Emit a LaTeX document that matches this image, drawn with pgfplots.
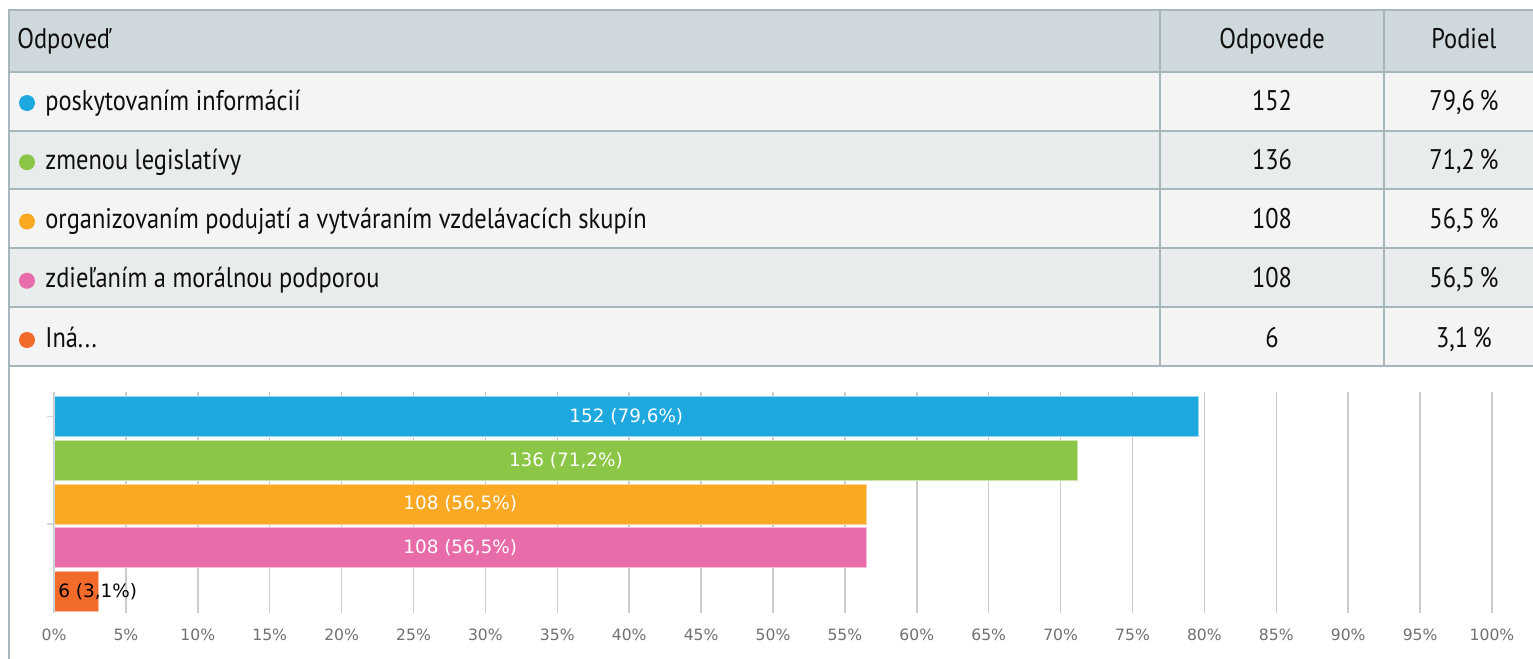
\documentclass[border=0pt]{standalone}
\usepackage{pgfplots}
\pgfplotsset{compat=1.18}
\usepackage{fontspec}
\setmainfont{PT Sans}[FakeStretch=0.86]
\newfontfamily\dejavu{DejaVu Sans}
\definecolor{cBlue}{HTML}{1EA8E0}
\definecolor{cGreen}{HTML}{8BC646}
\definecolor{cOrange}{HTML}{FBA823}
\definecolor{cPink}{HTML}{E76CA9}
\definecolor{cRed}{HTML}{F26B2A}
\definecolor{hdr}{HTML}{CFD8DC}
\definecolor{rowA}{HTML}{F4F4F4}
\definecolor{rowB}{HTML}{E9ECED}
\definecolor{bord}{HTML}{A7B6BC}
\definecolor{gridc}{HTML}{CCCCCC}
\definecolor{tickc}{HTML}{707070}
\definecolor{axl}{HTML}{CCD8E2}
\definecolor{txt}{HTML}{0E0E0E}
\newcommand\tabrow[5]{%
  \fill[#1] (27,#5-7) circle (8);
  \node[tt, anchor=base west] at (45,#5) {#2};
  \node[tt, anchor=base] at (1272,#5) {#3};
  \node[tt, anchor=base] at (1464,#5) {#4\,\%};
}
\begin{document}
\begin{tikzpicture}
\useasboundingbox (0,0) rectangle (766.5pt,-329.5pt);
\begin{scope}[x=0.5pt,y=-0.5pt]
\fill[hdr] (9,10) rectangle (1545,72);
\fill[rowA] (9,72) rectangle (1545,131);
\fill[rowB] (9,131) rectangle (1545,189);
\fill[rowA] (9,189) rectangle (1545,248);
\fill[rowB] (9,248) rectangle (1545,307);
\fill[rowA] (9,307) rectangle (1545,366);
\draw[bord, line width=1pt] (9,659) -- (9,10) -- (1545,10);
\foreach \y in {72,131,189,248,307,366} \draw[bord,line width=1pt] (9,\y) -- (1545,\y);
\draw[bord,line width=1pt] (1160,10) -- (1160,366) (1384,10) -- (1384,366);
\tikzset{tt/.style={text=txt, inner sep=0pt, font=\fontsize{14.2}{16}\selectfont}}
\node[tt, anchor=base west] at (17,48) {Odpoveď};
\node[tt, anchor=base] at (1272,48) {Odpovede};
\node[tt, anchor=base] at (1464,48) {Podiel};
\tabrow{cBlue}{poskytovaním informácií}{152}{79,6}{110}
\tabrow{cGreen}{zmenou legislatívy}{136}{71,2}{169.25}
\tabrow{cOrange}{organizovaním podujatí a vytváraním vzdelávacích skupín}{108}{56,5}{228.5}
\tabrow{cPink}{zdieľaním a morálnou podporou}{108}{56,5}{287.75}
\tabrow{cRed}{Iná...}{6}{3,1}{347}
\end{scope}
\begin{axis}[
  at={(27pt,-306.5pt)}, anchor=south west,
  scale only axis, width=719pt, height=110.5pt,
  xmin=0, xmax=100, ymin=-0.491, ymax=4.56,
  xbar, bar width=20pt, bar shift=0pt,
  xtick={0,5,...,100},
  xticklabel={\pgfmathprintnumber{\tick}\%},
  /pgf/number format/assume math mode=true,
  xticklabel style={font=\dejavu\fontsize{7.8}{9}\selectfont, text=tickc, yshift=-1pt},
  xmajorgrids, grid style={gridc, line width=0.75pt},
  axis line style={draw=none},
  ytick={4,1.543}, yticklabels={}, ytick pos=left,
  tick align=outside, major tick length=3.5pt,
  x tick style={draw=none},
  y tick style={axl, line width=0.75pt},
]
\addplot[fill=cBlue, draw=cBlue!45!white, line width=0.5pt] coordinates {(79.6,4)};
\addplot[fill=cGreen, draw=cGreen!45!white, line width=0.5pt] coordinates {(71.2,3)};
\addplot[fill=cOrange, draw=cOrange!45!white, line width=0.5pt] coordinates {(56.5,2)};
\addplot[fill=cPink, draw=cPink!45!white, line width=0.5pt] coordinates {(56.5,1)};
\addplot[fill=cRed, draw=cRed!45!white, line width=0.5pt] coordinates {(3.1,0)};
\draw[axl, line width=0.75pt] (axis cs:0,-0.491) -- (axis cs:0,4.56);
\tikzset{bl/.style={font=\dejavu\fontsize{9.2}{11}\selectfont, inner sep=0pt}}
\node[bl, text=white] at (axis cs:39.8,4) {152 (79,6\%)};
\node[bl, text=white] at (axis cs:35.6,3) {136 (71,2\%)};
\node[bl, text=white] at (axis cs:28.25,2) {108 (56,5\%)};
\node[bl, text=white] at (axis cs:28.25,1) {108 (56,5\%)};
\node[bl, text=black, anchor=west, xshift=2pt] at (axis cs:0,0) {6 (3,1\%)};
\end{axis}
\end{tikzpicture}
\end{document}
